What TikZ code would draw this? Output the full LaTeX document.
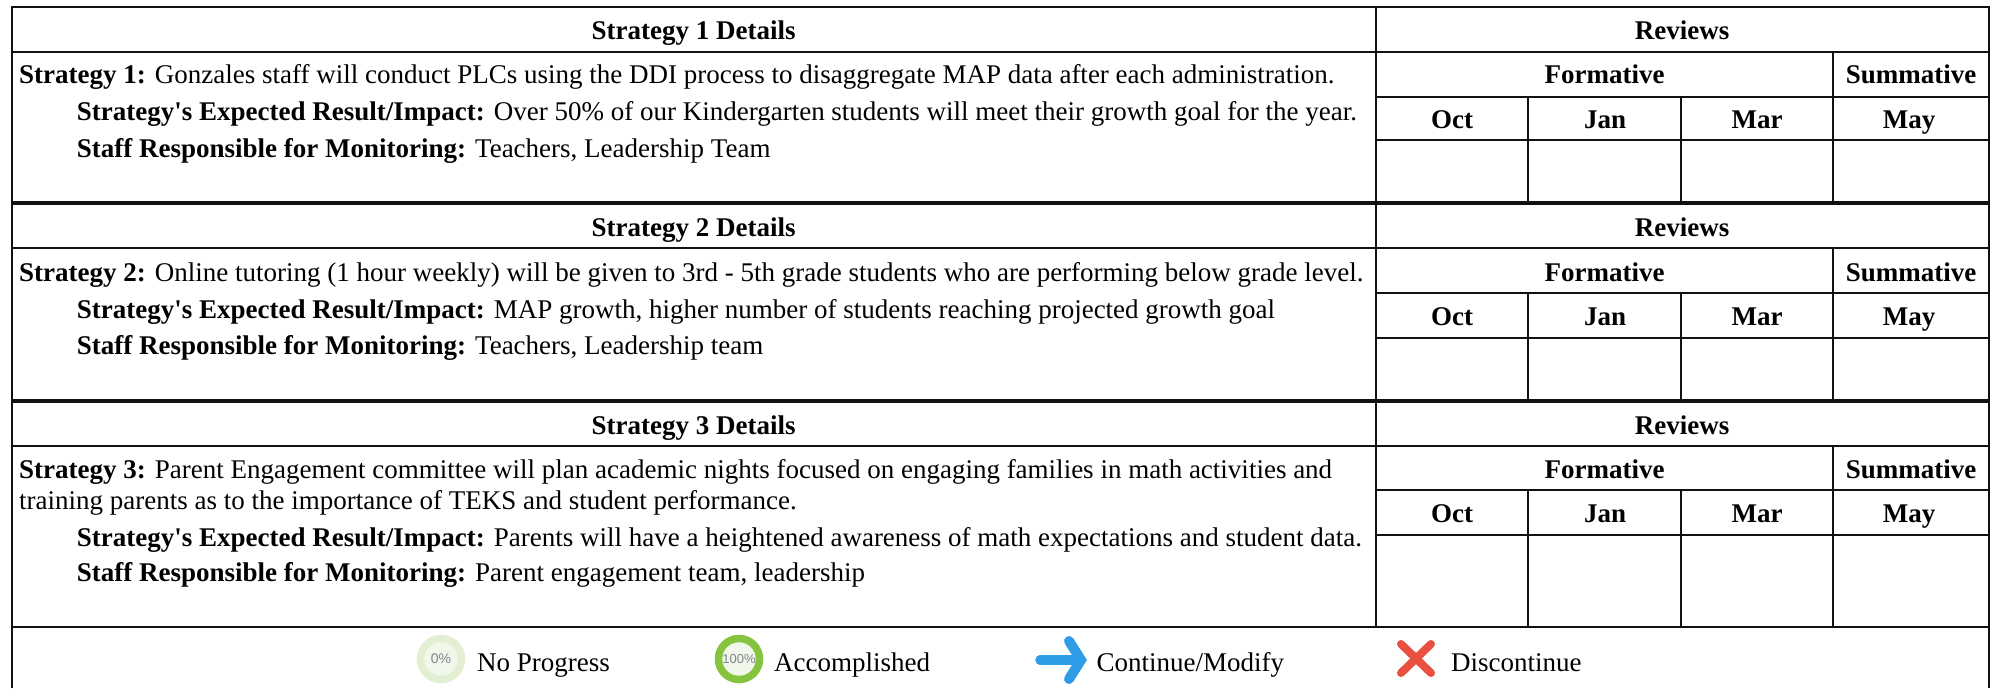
\documentclass[tikz,border=0pt]{standalone}
\usepackage{fontspec}
\setmainfont{Liberation Serif}[Ligatures=TeXOff]
\newfontfamily\iconfont{Liberation Sans}
\definecolor{ringlight}{HTML}{E3EFD3}
\definecolor{ringfull}{HTML}{86C440}
\definecolor{ringin}{HTML}{F1F7EA}
\definecolor{icontext}{HTML}{7F868E}
\definecolor{arrowblue}{HTML}{2E9CE6}
\definecolor{crossred}{HTML}{EA5040}
\definecolor{rule}{HTML}{111111}
\tikzset{
  x=1pt,y=-1pt,
  txt/.style={inner sep=0pt,anchor=base west,font=\fontsize{27}{30}\selectfont,text=black},
  ctr/.style={inner sep=0pt,anchor=base,font=\fontsize{27}{30}\selectfont\bfseries,text=black},
  gridline/.style={draw=rule,line width=2pt},
  sepline/.style={draw=rule,line width=4pt},
  icontxt/.style={inner sep=0pt,font=\iconfont\fontsize{14}{16}\selectfont,text=icontext},
}
\newcommand{\revgrid}[5]{% #1 hdr bottom, #2 form bottom, #3 oct bottom, #4 end
  \draw[gridline] (11.5,#1) -- (1989,#1);
  \draw[gridline] (1376,#2) -- (1989,#2);
  \draw[gridline] (1376,#3) -- (1989,#3);
  \draw[gridline] (1833,#1) -- (1833,#4);
  \draw[gridline] (1528.3,#2) -- (1528.3,#4);
  \draw[gridline] (1681,#2) -- (1681,#4);
}
\begin{document}
\begin{tikzpicture}
\useasboundingbox (0,0) rectangle (1997,688);
\fill[white] (0,0) rectangle (1997,688);
% grids
\revgrid{52}{96.7}{140}{203}{}
\revgrid{248}{293}{337.7}{400.5}{}
\revgrid{445.7}{490}{534.7}{627}{}
\draw[gridline] (11.5,688) -- (11.5,7) -- (1989,7) -- (1989,688);
\draw[gridline] (1376,7) -- (1376,627);
\draw[sepline] (11.5,203) -- (1989,203);
\draw[sepline] (11.5,400.5) -- (1989,400.5);
\draw[gridline,line width=2.6pt] (11.5,627) -- (1989,627);
% row 1
\node[ctr] (h1) at (693.7,39) {Strategy 1 Details};
\node[ctr] (r1) at (1682,39) {Reviews};
\node[ctr] (f1) at (1604.5,83.7) {Formative};
\node[ctr] (s1) at (1911,83.7) {Summative};
\node[ctr] (o1) at (1452,128) {Oct};
\node[ctr] (j1) at (1605,128) {Jan};
\node[ctr] (m1) at (1757,128) {Mar};
\node[ctr] (y1) at (1909,128) {May};
\node[txt] (a1) at (19,83.7) {\textbf{Strategy 1:} Gonzales staff will conduct PLCs using the DDI process to disaggregate MAP data after each administration.};
\node[txt] (b1) at (76.7,120.7) {\textbf{Strategy's Expected Result/Impact:} Over 50\% of our Kindergarten students will meet their growth goal for the year.};
\node[txt] (c1) at (76.7,157) {\textbf{Staff Responsible for Monitoring:} Teachers, Leadership Team};
% row 2
\node[ctr] (h2) at (693.7,236) {Strategy 2 Details};
\node[ctr] (r2) at (1682,236) {Reviews};
\node[ctr] (f2) at (1604.5,281) {Formative};
\node[ctr] (s2) at (1911,281) {Summative};
\node[ctr] (o2) at (1452,325.2) {Oct};
\node[ctr] (j2) at (1605,325.2) {Jan};
\node[ctr] (m2) at (1757,325.2) {Mar};
\node[ctr] (y2) at (1909,325.2) {May};
\node[txt] (a2) at (19,281) {\textbf{Strategy 2:} Online tutoring (1 hour weekly) will be given to 3rd - 5th grade students who are performing below grade level.};
\node[txt] (b2) at (76.7,318) {\textbf{Strategy's Expected Result/Impact:} MAP growth, higher number of students reaching projected growth goal};
\node[txt] (c2) at (76.7,354) {\textbf{Staff Responsible for Monitoring:} Teachers, Leadership team};
% row 3
\node[ctr] (h3) at (693.7,434) {Strategy 3 Details};
\node[ctr] (r3) at (1682,434) {Reviews};
\node[ctr] (f3) at (1604.5,478) {Formative};
\node[ctr] (s3) at (1911,478) {Summative};
\node[ctr] (o3) at (1452,522.5) {Oct};
\node[ctr] (j3) at (1605,522.5) {Jan};
\node[ctr] (m3) at (1757,522.5) {Mar};
\node[ctr] (y3) at (1909,522.5) {May};
\node[txt] (a3) at (19,478) {\textbf{Strategy 3:} Parent Engagement committee will plan academic nights focused on engaging families in math activities and};
\node[txt] (d3) at (19,509) {training parents as to the importance of TEKS and student performance.};
\node[txt] (b3) at (76.7,546) {\textbf{Strategy's Expected Result/Impact:} Parents will have a heightened awareness of math expectations and student data.};
\node[txt] (c3) at (76.7,581.7) {\textbf{Staff Responsible for Monitoring:} Parent engagement team, leadership};
% legend
\fill[ringlight] (441,659) circle (24.3);
\fill[ringin] (441,659) circle (16.7);
\node[icontxt] (i0) at (441,659) {0\%};
\node[txt] (l0) at (477,671.5) {No Progress};
\fill[ringfull] (739,659) circle (24.3);
\fill[ringin] (739,659) circle (16.7);
\node[icontxt,font=\iconfont\fontsize{13}{15}\selectfont] (i1) at (739,659) {100\%};
\node[txt] (l1) at (774,671.5) {Accomplished};
\draw[arrowblue,line width=9.5pt,line cap=round,line join=round] (1040,660) -- (1080,660);
\draw[arrowblue,line width=10pt,line cap=round,line join=miter] (1069,641) -- (1081,660) -- (1069,679);
\node[txt] (l2) at (1096.4,671.5) {Continue/Modify};
\draw[crossred,line width=8pt,line cap=round] (1401,644) -- (1431,673);
\draw[crossred,line width=8pt,line cap=round] (1431,644) -- (1401,673);
\node[txt] (l3) at (1451,671.5) {Discontinue};
\end{tikzpicture}
\end{document}
